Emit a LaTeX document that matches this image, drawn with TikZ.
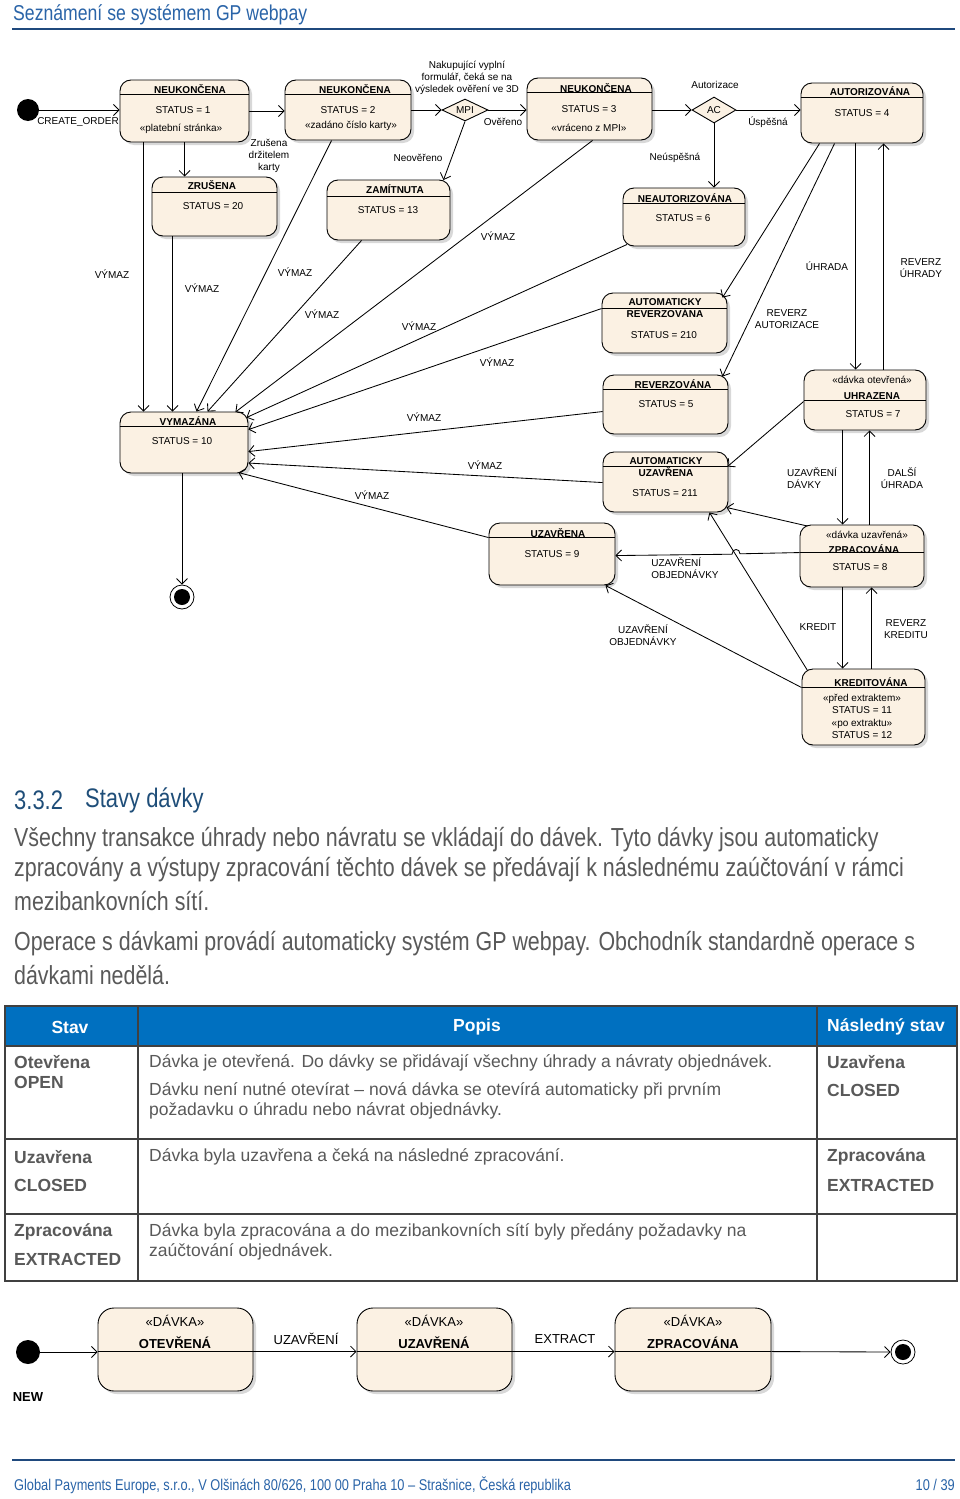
\documentclass[tikz,border=0pt]{standalone}
\usepackage{fontspec}
\setmainfont{Liberation Sans}
\newfontfamily\narrowfont[FakeStretch=0.82]{Liberation Sans}
\usetikzlibrary{shapes.geometric,arrows.meta,shadows,calc}
\definecolor{stfill}{HTML}{FBF1E3}
\definecolor{titleblue}{HTML}{2A64A8}
\definecolor{headblue}{HTML}{1F4E79}
\definecolor{rulecol}{HTML}{1F497D}
\definecolor{bodygrey}{HTML}{595959}
\definecolor{tblue}{HTML}{0070C0}
\definecolor{tline}{HTML}{404040}
\newcommand\fsz[2]{\fontsize{#1}{#2}\selectfont}
% optional style, name, cx, cy, width, height, header offset
\newcommand\stbox[7][]{%
  \node[st,#1,minimum width=#5pt,minimum height=#6pt] (#2) at (#3,#4) {};
  \draw[line width=0.9pt] ($(#2.north west)+(0,#7)$) -- ($(#2.north east)+(0,#7)$);}
\tikzset{
  st/.style={draw,line width=0.9pt,rounded corners=11pt,fill=stfill,inner sep=0pt,
    drop shadow={shadow xshift=3pt,shadow yshift=-3pt,fill=black!30}},
  tx/.style={font=\fsz{10}{12},inner sep=0pt,align=center},
  bx/.style={font=\bfseries\fsz{10}{12},inner sep=0pt,align=center},
  tr/.style={-{Straight Barb[length=5.5pt,width=11pt]},line width=0.85pt},
  dia/.style={diamond,draw,fill=stfill,line width=0.9pt,inner sep=0pt,font=\fsz{10}{12}},
  bodyt/.style={font=\narrowfont\fsz{26.1}{30},text=bodygrey,anchor=west,inner sep=0pt},
  th/.style={font=\bfseries\fsz{17.5}{20},text=white,inner sep=0pt},
  tb/.style={font=\fsz{17.5}{20},text=bodygrey,anchor=west,inner sep=0pt},
  tbb/.style={font=\bfseries\fsz{17.5}{20},text=bodygrey,anchor=west,inner sep=0pt},
  bt/.style={font=\fsz{13}{15},inner sep=0pt},
  bb/.style={font=\bfseries\fsz{13}{15},inner sep=0pt},
}
\begin{document}
\begin{tikzpicture}[x=1pt,y=-1pt]
\fill[white] (0,0) rectangle (960,1499);
\useasboundingbox (0,0) rectangle (960,1499);

% ---------- page header ----------
\node[font=\narrowfont\fsz{21.5}{24},text=titleblue,anchor=west,inner sep=0pt] (title) at (13,15) {Seznámení se systémem GP webpay};
\draw[rulecol,line width=2pt] (12,29) -- (955,29);

% ---------- states ----------
\stbox{n1}{184.5}{111}{129}{62}{15}
\stbox{n2}{348}{110}{126}{60}{15}
\stbox{n3}{589.5}{109}{125}{62}{15}
\stbox{zru}{214.5}{206.5}{125}{59}{16}
\stbox{zam}{388.5}{210}{123}{60}{17}
\stbox{aut}{862}{113}{122}{60}{15}
\stbox{neaut}{684}{217}{122}{58}{16}
\stbox{vym}{184}{442.5}{128}{61}{15}
\stbox{arev}{664.5}{323}{125}{60}{16}
\stbox{rev}{665.5}{404.5}{125}{59}{15}
\stbox{auz}{665.5}{482}{125}{60}{15}
\stbox{uhr}{865}{400}{122}{60}{31}
\stbox{uza}{552}{554}{126}{62}{15}
\stbox{zpr}{862}{556}{124}{62}{28}
\stbox{kre}{863.5}{707}{123}{76}{19}

\node[dia,aspect=2.5,minimum width=46pt,minimum height=22pt] (mpi) at (465,110) {MPI};
\node[dia,aspect=1.7,minimum width=44pt,minimum height=26pt] (ac) at (714,110) {AC};

\node[circle,fill=black,minimum size=22pt,inner sep=0pt] (ini) at (28,110) {};
\node[circle,draw,fill=white,line width=0.8pt,minimum size=24pt,inner sep=0pt] (fin) at (182,597) {};
\node[circle,fill=black,minimum size=16pt,inner sep=0pt] (finc) at (fin.center) {};

% ---------- state texts ----------
\node[bx] (n1t) at (190,89) {NEUKONČENA};
\node[tx] (n1s) at (183,110) {STATUS = 1};
\node[tx] (n1p) at (181,129) {«platební stránka»};
\node[bx] (n2t) at (355,89) {NEUKONČENA};
\node[tx] (n2s) at (348,110) {STATUS = 2};
\node[tx] (n2p) at (351,126) {«zadáno číslo karty»};
\node[bx] (n3t) at (596,88) {NEUKONČENA};
\node[tx] (n3s) at (589,109) {STATUS = 3};
\node[tx] (n3p) at (589,128) {«vráceno z MPI»};
\node[bx] (zrut) at (212,185) {ZRUŠENA};
\node[tx] (zrus) at (213,206) {STATUS = 20};
\node[bx] (zamt) at (395,189) {ZAMÍTNUTA};
\node[tx] (zams) at (388,210) {STATUS = 13};
\node[bx] (autt) at (870,91) {AUTORIZOVÁNA};
\node[tx] (auts) at (862,113) {STATUS = 4};
\node[bx] (neautt) at (685,198) {NEAUTORIZOVÁNA};
\node[tx] (neauts) at (683,218) {STATUS = 6};
\node[bx] (vymt) at (188,421) {VYMAZÁNA};
\node[tx] (vyms) at (182,441) {STATUS = 10};
\node[bx] (arevt) at (665,308) {AUTOMATICKY\\REVERZOVÁNA};
\node[tx] (arevs) at (664,335) {STATUS = 210};
\node[bx] (revt) at (673,384) {REVERZOVÁNA};
\node[tx] (revs) at (666,404) {STATUS = 5};
\node[bx] (auzt) at (666,467) {AUTOMATICKY\\UZAVŘENA};
\node[tx] (auzs) at (665,493) {STATUS = 211};
\node[tx] (uhrp) at (872,380) {«dávka otevřená»};
\node[bx] (uhrt) at (872,396) {UHRAZENA};
\node[tx] (uhrs) at (873,414) {STATUS = 7};
\node[bx] (uzat) at (558,533) {UZAVŘENA};
\node[tx] (uzas) at (552,554) {STATUS = 9};
\node[tx] (zprp) at (867,535) {«dávka uzavřená»};
\node[bx] (zprt) at (864,549) {ZPRACOVÁNA};
\node[tx] (zprs) at (860,567) {STATUS = 8};
\node[bx] (kret) at (871,682) {KREDITOVÁNA};
\node[tx,font=\fsz{10}{12.3}] (krep) at (862,716.5) {«před extraktem»\\STATUS = 11\\«po extraktu»\\STATUS = 12};

% ---------- transition labels ----------
\node[tx] (l1) at (78,122) {CREATE\_ORDER};
\node[tx] (l2) at (269,156) {Zrušena\\držitelem\\karty};
\node[tx] (l3) at (467,78) {Nakupující vyplní\\formulář, čeká se na\\výsledek ověření ve 3D};
\node[tx] (l4) at (503,122) {Ověřeno};
\node[tx] (l5) at (418,158) {Neověřeno};
\node[tx] (l6) at (715,85) {Autorizace};
\node[tx] (l7) at (768,122) {Úspěšná};
\node[tx] (l8) at (675,158) {Neúspěšná};
\node[tx] (v1) at (112,274) {VÝMAZ};
\node[tx] (v2) at (202,288) {VÝMAZ};
\node[tx] (v3) at (295,272) {VÝMAZ};
\node[tx] (v4) at (322,314) {VÝMAZ};
\node[tx] (v5) at (419,326) {VÝMAZ};
\node[tx] (v6) at (498,236) {VÝMAZ};
\node[tx] (v7) at (497,362) {VÝMAZ};
\node[tx] (v8) at (424,417) {VÝMAZ};
\node[tx] (v9) at (485,465) {VÝMAZ};
\node[tx] (v10) at (372,495) {VÝMAZ};
\node[tx] (l9) at (827,266) {ÚHRADA};
\node[tx] (l10) at (921,268) {REVERZ\\ÚHRADY};
\node[tx] (l11) at (787,319) {REVERZ\\AUTORIZACE};
\node[tx,align=left] (l12) at (812,478) {UZAVŘENÍ\\DÁVKY};
\node[tx] (l13) at (902,478) {DALŠÍ\\ÚHRADA};
\node[tx,align=left] (l14) at (685,568) {UZAVŘENÍ\\OBJEDNÁVKY};
\node[tx] (l15) at (818,627) {KREDIT};
\node[tx] (l16) at (906,629) {REVERZ\\KREDITU};
\node[tx] (l17) at (643,635) {UZAVŘENÍ\\OBJEDNÁVKY};

% ---------- transitions ----------
\draw[tr] (ini.east) -- (ini.east -| n1.west);
\draw[tr] (n1.east) -- (n1.east -| n2.west);
\draw[tr] ($(n1.south west)+(65,0)$) -- ($(zru.north west)+(33,0)$);
\draw[tr] (n2.east) -- (n2.east -| mpi.west);
\draw[tr] (mpi.east) -- (mpi.east -| n3.west);
\draw[tr] (mpi.south) -- ($(zam.north east)+(-7,0.5)$);
\draw[tr] (ac.west -| n3.east) -- (ac.west);
\draw[tr] (ac.east) -- (ac.east -| aut.west);
\draw[tr] (ac.south) -- (ac.south |- neaut.north);
\draw[tr] ($(aut.south west)+(19,0)$) -- ($(arev.north east)+(-5,5)$);
\draw[tr] ($(aut.south west)+(34,0)$) -- ($(rev.north east)+(-6,2)$);
\draw[tr] ($(aut.south west)+(55,0)$) -- ($(uhr.north west)+(52,0)$);
\draw[tr] ($(uhr.north west)+(80,0)$) -- ($(aut.south west)+(83,0)$);
\draw[tr] ($(uhr.north west)+(0,32)$) -- ($(auz.north east)+(-1,15)$);
\draw[tr] ($(uhr.south west)+(39,0)$) -- ($(zpr.north west)+(43,0)$);
\draw[tr] ($(zpr.north west)+(70,0)$) -- ($(uhr.south west)+(66,0)$);
\draw[tr] ($(zpr.north west)+(8,1.5)$) -- ($(auz.south east)+(-2,-5)$);
\draw[tr] ($(zpr.north west)+(0,28)$) -- (740,553.8) .. controls (740,548) and (732,548) .. (732,554.2) -- ($(uza.north east)+(0,33)$);
\draw[tr] ($(zpr.south west)+(43,0)$) -- ($(kre.north west)+(41,0)$);
\draw[tr] ($(kre.north west)+(70,0)$) -- ($(zpr.south west)+(72,0)$);
\draw[tr] ($(kre.north west)+(6,2)$) -- ($(auz.south east)+(-19,0)$);
\draw[tr] ($(kre.north west)+(0,19)$) -- ($(uza.south east)+(-10,0)$);
% VÝMAZ transitions
\draw[tr] ($(n1.south west)+(24,0)$) -- ($(vym.north west)+(24,0)$);
\draw[tr] ($(zru.south west)+(21,0)$) -- ($(vym.north west)+(53,0)$);
\draw[tr] ($(n2.south west)+(47,0)$) -- ($(vym.north west)+(77,0)$);
\draw[tr] ($(zam.south west)+(35,0)$) -- ($(vym.north west)+(88,0)$);
\draw[tr] ($(n3.south west)+(66,0)$) -- ($(vym.north east)+(-13,0.5)$);
\draw[tr] ($(neaut.south west)+(4.5,-2)$) -- ($(vym.north east)+(-2,6)$);
\draw[tr] ($(arev.north west)+(0,16)$) -- ($(vym.north east)+(0,18)$);
\draw[tr] ($(rev.north west)+(0,37)$) -- ($(vym.north east)+(0,40)$);
\draw[tr] ($(auz.north west)+(0,31)$) -- ($(vym.north east)+(0,51.5)$);
\draw[tr] ($(uza.north west)+(0,15)$) -- ($(vym.north east)+(-10,61)$);
\draw[tr] (fin.north |- vym.south) -- (fin.north);

% ---------- section text ----------
\node[font=\narrowfont\fsz{26.8}{30},text=headblue,anchor=west,inner sep=0pt] (sec1) at (14,800) {3.3.2};
\node[font=\narrowfont\fsz{26.8}{30},text=headblue,anchor=west,inner sep=0pt] (sec2) at (85,800) {Stavy dávky};
\node[bodyt] (p1) at (14,840) {Všechny transakce úhrady nebo návratu se vkládají do dávek. Tyto dávky jsou automaticky};
\node[bodyt] (p2) at (14,870) {zpracovány a výstupy zpracování těchto dávek se předávají k následnému zaúčtování v rámci};
\node[bodyt] (p3) at (14,901) {mezibankovních sítí.};
\node[bodyt] (p4) at (14,944) {Operace s dávkami provádí automaticky systém GP webpay. Obchodník standardně operace s};
\node[bodyt] (p5) at (14,975) {dávkami nedělá.};

% ---------- table ----------
\fill[tblue] (5,1006) rectangle (957,1046);
\draw[tline,line width=1.2pt] (5,1006) rectangle (957,1281);
\draw[tline,line width=1.2pt] (138,1006) -- (138,1281) (817,1006) -- (817,1281)
  (5,1046) -- (957,1046) (5,1139) -- (957,1139) (5,1214) -- (957,1214);
\node[th] (h1) at (70,1027) {Stav};
\node[th] (h2) at (477,1027) {Popis};
\node[th] (h3) at (886,1027) {Následný stav};
\node[tbb] (r1a) at (14,1062) {Otevřena};
\node[tbb] (r1b) at (14,1082) {OPEN};
\node[tb] (r1c) at (149,1063) {Dávka je otevřená. Do dávky se přidávají všechny úhrady a návraty objednávek.};
\node[tb] (r1d) at (149,1091) {Dávku není nutné otevírat – nová dávka se otevírá automaticky při prvním};
\node[tb] (r1e) at (149,1111) {požadavku o úhradu nebo návrat objednávky.};
\node[tbb] (r1f) at (827,1062) {Uzavřena};
\node[tbb] (r1g) at (827,1090) {CLOSED};
\node[tbb] (r2a) at (14,1157) {Uzavřena};
\node[tbb] (r2b) at (14,1185) {CLOSED};
\node[tb] (r2c) at (149,1157) {Dávka byla uzavřena a čeká na následné zpracování.};
\node[tbb] (r2f) at (827,1157) {Zpracována};
\node[tbb] (r2g) at (827,1185) {EXTRACTED};
\node[tbb] (r3a) at (14,1232) {Zpracována};
\node[tbb] (r3b) at (14,1259) {EXTRACTED};
\node[tb] (r3c) at (149,1232) {Dávka byla zpracována a do mezibankovních sítí byly předány požadavky na};
\node[tb] (r3d) at (149,1252) {zaúčtování objednávek.};

% ---------- batch state machine ----------
\stbox[rounded corners=16pt]{b1}{175.5}{1349.5}{155}{83}{44}
\stbox[rounded corners=16pt]{b2}{434.5}{1349.5}{155}{83}{44}
\stbox[rounded corners=16pt]{b3}{693}{1349.5}{156}{83}{44}
\node[circle,fill=black,minimum size=24pt,inner sep=0pt] (ini2) at (28,1352) {};
\node[circle,draw,fill=white,line width=0.8pt,minimum size=24pt,inner sep=0pt] (fin2) at (903,1352) {};
\node[circle,fill=black,minimum size=16pt,inner sep=0pt] (fin2c) at (fin2.center) {};
\node[bt] (b1p) at (175,1321) {«DÁVKA»};
\node[bb] (b1t) at (175,1343) {OTEVŘENÁ};
\node[bt] (b2p) at (434,1321) {«DÁVKA»};
\node[bb] (b2t) at (434,1343) {UZAVŘENÁ};
\node[bt] (b3p) at (693,1321) {«DÁVKA»};
\node[bb] (b3t) at (693,1343) {ZPRACOVÁNA};
\node[bb] (new) at (28,1397) {NEW};
\node[bt] (bl1) at (306,1339) {UZAVŘENÍ};
\node[bt] (bl2) at (565,1339) {EXTRACT};
\draw[tr] (ini2.east) -- (ini2.east -| b1.west);
\draw[tr] ($(b1.north east)+(0,44)$) -- ($(b2.north west)+(0,44)$);
\draw[tr] ($(b2.north east)+(0,44)$) -- ($(b3.north west)+(0,44)$);
\draw[tr] ($(b3.north east)+(0,44)$) -- (fin2.west);

% ---------- footer ----------
\draw[rulecol,line width=2pt] (12,1460) -- (955,1460);
\node[font=\narrowfont\fsz{15.6}{18},text=titleblue,anchor=west,inner sep=0pt] (foot) at (14,1485) {Global Payments Europe, s.r.o., V Olšinách 80/626, 100 00 Praha 10 – Strašnice, Česká republika};
\node[font=\narrowfont\fsz{15.6}{18},text=titleblue,anchor=east,inner sep=0pt] (page) at (955,1485) {10 / 39};
\end{tikzpicture}
\end{document}
